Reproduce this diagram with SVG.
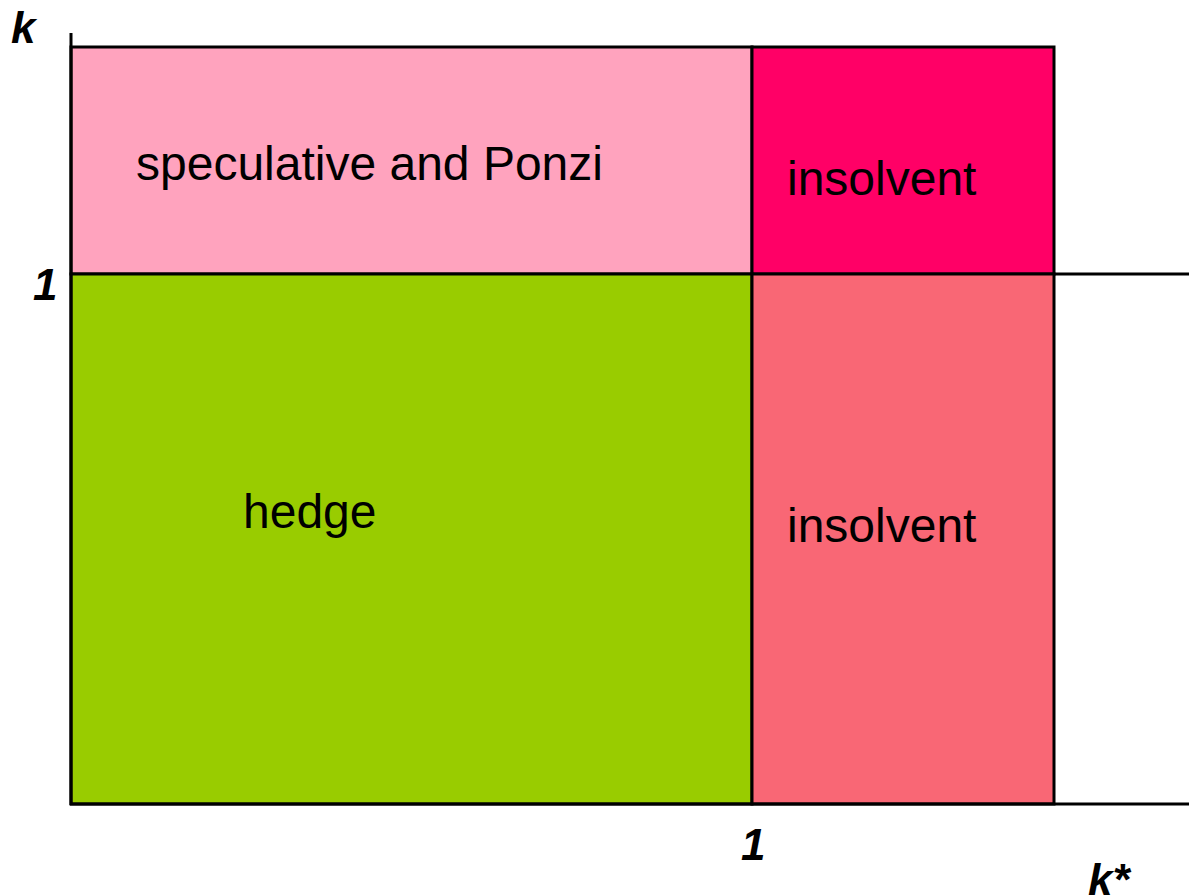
<svg xmlns="http://www.w3.org/2000/svg" width="1189" height="895" viewBox="0 0 1189 895">
  <style>
    .region { stroke: #000; stroke-width: 3; }
    .axis { stroke: #000; stroke-width: 3; fill: none; }
    .lbl { font-family: "Liberation Sans", Arial, sans-serif; font-size: 48px; fill: #000; }
    .ax { font-family: "Liberation Sans", Arial, sans-serif; font-size: 44px; font-weight: bold; font-style: italic; fill: #000; }
  </style>
  <rect width="1189" height="895" fill="#fff"/>

  <g id="speculative">
    <rect class="region" x="71" y="47" width="681" height="227" fill="#FFA3BE"/>
    <text class="lbl" x="136" y="180">speculative and Ponzi</text>
  </g>
  <g id="insolvent-top">
    <rect class="region" x="752" y="47" width="302" height="227" fill="#FF0066"/>
    <text class="lbl" x="787" y="195">insolvent</text>
  </g>
  <g id="hedge">
    <rect class="region" x="71" y="274" width="681" height="530" fill="#99CC00"/>
    <text class="lbl" x="243" y="528">hedge</text>
  </g>
  <g id="insolvent-bottom">
    <rect class="region" x="752" y="274" width="302" height="530" fill="#F96775"/>
    <text class="lbl" x="787" y="542">insolvent</text>
  </g>

  <g id="axes">
    <line class="axis" x1="71" y1="33" x2="71" y2="805"/>
    <line class="axis" x1="70" y1="804" x2="1189" y2="804"/>
    <line class="axis" x1="1054" y1="274" x2="1189" y2="274"/>
  </g>

  <g id="axis-labels">
    <text class="ax" x="11" y="43">k</text>
    <text class="ax" x="33" y="300">1</text>
    <text class="ax" x="741" y="860">1</text>
    <text class="ax" x="1088" y="895">k*</text>
  </g>
</svg>
